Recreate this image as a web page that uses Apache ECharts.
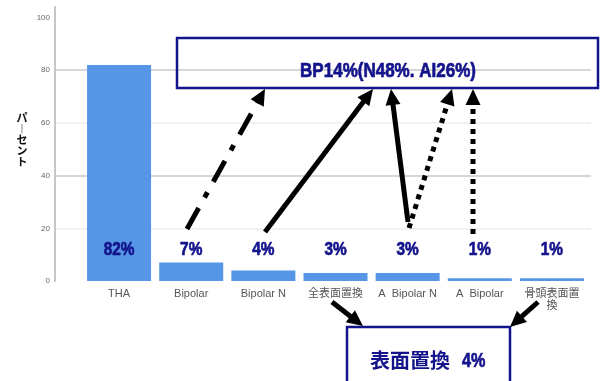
<!DOCTYPE html>
<html>
<head>
<meta charset="utf-8">
<script src="https://cdn.jsdelivr.net/npm/echarts@6/dist/echarts.min.js"></script>
<style>
html, body { margin: 0; padding: 0; background: #fff; }
#chart { width: 602px; height: 381px; }
</style>
</head>
<body>
<div id="chart"></div>
<script>
// Share of each procedure (percent)
const categories = ['THA', 'Bipolar', 'Bipolar N', '全表面置換', 'A  Bipolar N', 'A  Bipolar', '骨頭表面置\n換'];
const shares = [82, 7, 4, 3, 3, 1, 1];
const yTicks = [0, 20, 40, 60, 80, 100];
const axisTitle = 'パーセント';
const groupNote = 'BP14%(N48%. AI26%)';
const surfaceNote = ['表面置換', '4%'];

const NAVY = '#13138c';
const LATIN = "'Liberation Sans', Arial, sans-serif";
const BASE = "'Liberation Sans', Arial, 'Noto Sans CJK JP', sans-serif";
const SQUEEZE = 0.81;     // condensed look for the bold annotation figures
const Y_MAX = 104;        // axis runs a little past the last labelled tick
const LABEL_LEVEL = 11.7; // value level where the percentage labels sit

const chart = echarts.init(document.getElementById('chart'), null, { renderer: 'canvas' });

// Thick annotation arrow with a filled triangular head
function arrow(x1, y1, x2, y2, dash) {
  const dx = x2 - x1, dy = y2 - y1;
  const len = Math.hypot(dx, dy);
  const ux = dx / len, uy = dy / len;
  const hl = 16, hw = 7.5;
  const bx = x2 - ux * hl, by = y2 - uy * hl;
  return [
    {
      type: 'line',
      shape: { x1: x1, y1: y1, x2: bx + ux * 2, y2: by + uy * 2 },
      style: { stroke: '#000', lineWidth: 5, lineDash: dash || null, lineCap: 'butt' },
      z: 50
    },
    {
      type: 'polygon',
      shape: { points: [[x2, y2], [bx - uy * hw, by + ux * hw], [bx + uy * hw, by - ux * hw]] },
      style: { fill: '#000' },
      z: 50
    }
  ];
}

const verticalTitle = axisTitle.split('').map(c => (c === 'ー' ? '︱' : c)).join('\n');

const graphics = [
  // vertical axis title
  {
    type: 'text', x: 22, y: 140,
    style: {
      text: verticalTitle, fill: '#111', font: "bold 11px 'Noto Sans CJK JP', sans-serif",
      align: 'center', verticalAlign: 'middle', lineHeight: 11
    }
  },
  // summary box for the bipolar group
  {
    type: 'rect', shape: { x: 177, y: 38, width: 421, height: 50 },
    style: { fill: 'none', stroke: NAVY, lineWidth: 2.5 }, z: 40
  },
  {
    type: 'text', x: 388, y: 71, scaleX: SQUEEZE,
    style: {
      text: groupNote, fill: NAVY, font: 'bold 21px ' + LATIN,
      stroke: NAVY, lineWidth: 0.7,
      align: 'center', verticalAlign: 'middle'
    }, z: 41
  },
  // summary box for surface replacement
  {
    type: 'rect', shape: { x: 347, y: 327, width: 163, height: 64 },
    style: { fill: 'none', stroke: NAVY, lineWidth: 2.5 }, z: 40
  },
  {
    type: 'text', x: 450, y: 360,
    style: {
      text: surfaceNote[0], fill: NAVY, font: "bold 20px 'Noto Sans CJK JP', sans-serif",
      align: 'right', verticalAlign: 'middle'
    }, z: 41
  },
  {
    type: 'text', x: 462, y: 361, scaleX: SQUEEZE,
    style: {
      text: surfaceNote[1], fill: NAVY, font: 'bold 20px ' + LATIN,
      stroke: NAVY, lineWidth: 0.7,
      align: 'left', verticalAlign: 'middle'
    }, z: 41
  }
]
  .concat(arrow(187, 229, 265, 89, [24, 12, 6, 12]))
  .concat(arrow(265, 232, 373, 89))
  .concat(arrow(408, 222, 391, 89))
  .concat(arrow(409, 228, 452, 89, [5, 5]))
  .concat(arrow(473, 234, 473, 89, [5, 5]))
  .concat(arrow(332, 302, 363, 326))
  .concat(arrow(538, 302, 510, 327));

const option = {
  backgroundColor: '#fff',
  animation: false,
  grid: [
    { left: 83, right: 14, top: 7, bottom: 100 },
    { left: 55, right: 11, top: 7, bottom: 100 }
  ],
  xAxis: [
    {
      type: 'category', gridIndex: 0, data: categories,
      axisLine: { show: false }, axisTick: { show: false },
      axisLabel: {
        interval: 0, color: '#555', fontSize: 11, margin: 7, lineHeight: 12,
        fontFamily: BASE
      }
    },
    { type: 'value', gridIndex: 1, show: false, min: 0, max: 1 }
  ],
  yAxis: [
    { type: 'value', gridIndex: 0, min: 0, max: Y_MAX, show: false, splitLine: { show: false } },
    {
      type: 'value', gridIndex: 1, min: 0, max: Y_MAX, interval: 20,
      axisLine: { show: true, onZero: false, lineStyle: { color: '#c6c6c6', width: 2 } },
      axisTick: { show: false },
      axisLabel: {
        fontSize: 8, color: '#666', margin: 5, fontFamily: BASE,
        formatter: v => (yTicks.indexOf(v) >= 0 ? String(v) : '')
      },
      splitLine: {
        show: true, showMinLine: false, showMaxLine: false,
        lineStyle: { width: 2, color: ['#f1f1f1', '#d6d6d6', '#f1f1f1', '#d6d6d6', 'rgba(0,0,0,0)'] }
      }
    }
  ],
  series: [
    {
      type: 'bar', xAxisIndex: 0, yAxisIndex: 0, data: shares,
      barWidth: 64, itemStyle: { color: '#5596e6' }, z: 2
    },
    {
      // percentage labels on a common baseline, drawn condensed
      type: 'custom', xAxisIndex: 0, yAxisIndex: 0, silent: true, z: 5,
      data: shares.map((v, i) => [i, LABEL_LEVEL, v]),
      renderItem: function (params, api) {
        const pt = api.coord([api.value(0), api.value(1)]);
        return {
          type: 'text', x: pt[0], y: pt[1], scaleX: SQUEEZE,
          style: {
            text: api.value(2) + '%', fill: NAVY, font: 'bold 19px ' + LATIN,
            stroke: NAVY, lineWidth: 0.7,
            align: 'center', verticalAlign: 'middle'
          }
        };
      }
    }
  ],
  graphic: graphics
};

chart.setOption(option);
</script>
</body>
</html>
